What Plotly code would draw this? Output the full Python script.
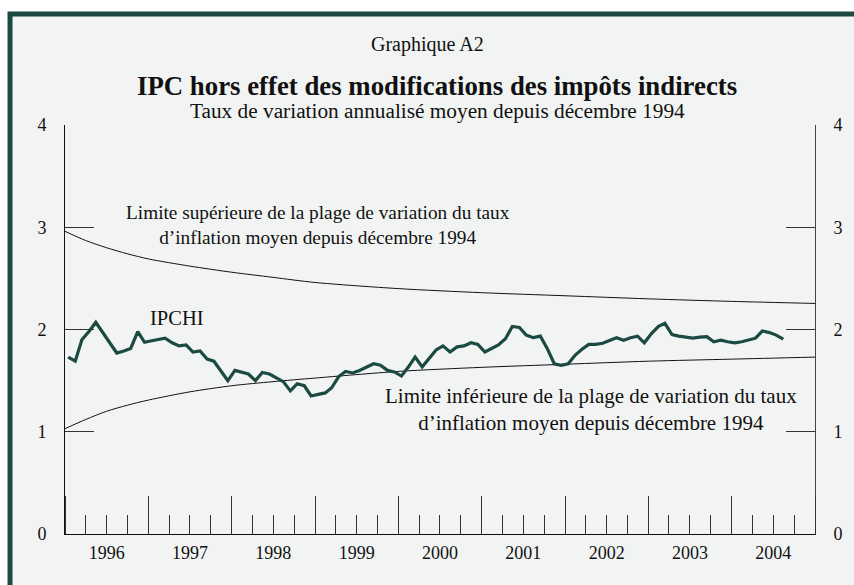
import plotly.graph_objects as go
import pandas as pd

# IPCHI, monthly, Jan 1996 .. Aug 2004 (annualised average rate since Dec 1994, %)
ipchi = [
    1.73, 1.69, 1.90, 1.98, 2.07, 1.97, 1.87, 1.77, 1.79, 1.815, 1.98, 1.875,   # 1996
    1.89, 1.90, 1.915, 1.87, 1.84, 1.85, 1.78, 1.79, 1.71, 1.69, 1.59, 1.50,    # 1997
    1.60, 1.58, 1.565, 1.50, 1.58, 1.565, 1.53, 1.49, 1.40, 1.47, 1.45, 1.35,   # 1998
    1.365, 1.38, 1.43, 1.54, 1.59, 1.575, 1.60, 1.635, 1.665, 1.65, 1.60, 1.585,# 1999
    1.545, 1.635, 1.73, 1.635, 1.72, 1.80, 1.84, 1.78, 1.83, 1.84, 1.87, 1.855, # 2000
    1.78, 1.815, 1.85, 1.91, 2.03, 2.02, 1.945, 1.92, 1.935, 1.815, 1.665, 1.65,# 2001
    1.665, 1.75, 1.805, 1.855, 1.855, 1.865, 1.895, 1.92, 1.895, 1.92, 1.935, 1.87, # 2002
    1.96, 2.03, 2.06, 1.95, 1.935, 1.925, 1.915, 1.925, 1.93, 1.88, 1.895, 1.88,# 2003
    1.87, 1.88, 1.90, 1.915, 1.985, 1.97, 1.945, 1.905,                         # 2004
]
ipchi_dates = pd.date_range("1996-01-01", periods=len(ipchi), freq="MS") + pd.Timedelta(days=14)

# Limits of the range of variation of average inflation since Dec 1994
bound_dates = ["1996-01-01", "1996-04-01", "1996-07-01", "1996-10-01", "1997-01-01",
               "1997-07-01", "1998-01-01", "1998-07-01", "1999-01-01", "2000-01-01",
               "2001-01-01", "2002-01-01", "2003-01-01", "2004-01-01", "2005-01-01"]
upper = [2.96, 2.87, 2.80, 2.74, 2.69, 2.62, 2.56, 2.51, 2.46, 2.40, 2.36, 2.33, 2.30, 2.275, 2.255]
lower = [1.03, 1.12, 1.20, 1.26, 1.31, 1.39, 1.45, 1.49, 1.525, 1.59, 1.63, 1.66, 1.69, 1.71, 1.73]

y_ticks = [0, 1, 2, 3, 4]

GREEN = "#1b4a43"
INK = "#111111"
FONT = "Liberation Serif"

fig = go.Figure()
fig.add_trace(go.Scatter(x=bound_dates, y=upper, mode="lines",
                         line=dict(color=INK, width=1, shape="spline", smoothing=0.8),
                         hoverinfo="skip"))
fig.add_trace(go.Scatter(x=bound_dates, y=lower, mode="lines",
                         line=dict(color=INK, width=1, shape="spline", smoothing=0.8),
                         hoverinfo="skip"))
fig.add_trace(go.Scatter(x=ipchi_dates, y=ipchi, mode="lines",
                         line=dict(color=GREEN, width=3.2), name="IPCHI"))
# invisible trace for the right-hand axis
fig.add_trace(go.Scatter(x=[bound_dates[0]], y=[0], yaxis="y2", mode="markers",
                         marker=dict(opacity=0), hoverinfo="skip"))

fig.update_layout(
    width=854, height=585,
    margin=dict(l=65, r=39, t=125, b=51),
    paper_bgcolor="white", plot_bgcolor="rgba(0,0,0,0)",
    showlegend=False,
    font=dict(family=FONT, size=18, color=INK),
    xaxis=dict(
        type="date", range=["1996-01-01", "2005-01-01"],
        tick0="1996-01-01", dtick="M12", tickformat="%Y", ticklabelmode="period",
        ticks="inside", ticklen=38, tickwidth=1, tickcolor="#333",
        showline=True, linecolor=INK, linewidth=1,
        showgrid=False, zeroline=False, ticklabelstandoff=2,
        minor=dict(ticks="inside", ticklen=19, tickwidth=1, tickcolor="#333",
                   tick0="1996-01-01", dtick="M3", showgrid=False),
        tickfont=dict(family=FONT, size=18, color=INK),
    ),
    yaxis=dict(
        range=[0, 4], tickvals=y_ticks, ticks="inside", ticklen=29, tickwidth=1,
        tickcolor="#333", showline=True, linecolor=INK, linewidth=1,
        showgrid=False, zeroline=False, ticklabelstandoff=14,
        tickfont=dict(family=FONT, size=18, color=INK),
    ),
    yaxis2=dict(
        range=[0, 4], tickvals=y_ticks, ticks="inside", ticklen=29, tickwidth=1,
        tickcolor="#333", showline=True, linecolor="#444", linewidth=1,
        showgrid=False, zeroline=False, ticklabelstandoff=14,
        overlaying="y", side="right", anchor="x",
        tickfont=dict(family=FONT, size=18, color=INK),
    ),
)

# framed background (paper coords relative to the 750x409 plot area)
fig.add_shape(type="rect", xref="paper", yref="paper",
              x0=-0.0733, x1=1.08, y0=-0.2, y1=1.2714,
              line=dict(color=GREEN, width=5), fillcolor="#f2f4f3", layer="below")

def ann(text, x, y, size, bold=False, align="center"):
    fig.add_annotation(text=f"<b>{text}</b>" if bold else text, x=x, y=y,
                       xref="paper", yref="paper", showarrow=False,
                       xanchor="center", yanchor="middle", align=align,
                       font=dict(family=FONT, size=size, color=INK))

ann("Graphique A2", 0.4827, 1.198, 20)
ann("IPC hors effet des modifications des impôts indirects", 0.4960, 1.0954, 26.8, bold=True)
ann("Taux de variation annualisé moyen depuis décembre 1994", 0.4960, 1.0342, 21.3)
ann("Limite supérieure de la plage de variation du taux<br>d’inflation moyen depuis décembre 1994",
    0.3373, 0.7555, 19.3)
ann("IPCHI", 0.1487, 0.5281, 20.5)
ann("Limite inférieure de la plage de variation du taux<br>d’inflation moyen depuis décembre 1994",
    0.7007, 0.3032, 21)

fig.write_html("out.html",
               config={"displayModeBar": False},
               post_script="document.body.style.margin='0';document.body.style.overflow='hidden';")
